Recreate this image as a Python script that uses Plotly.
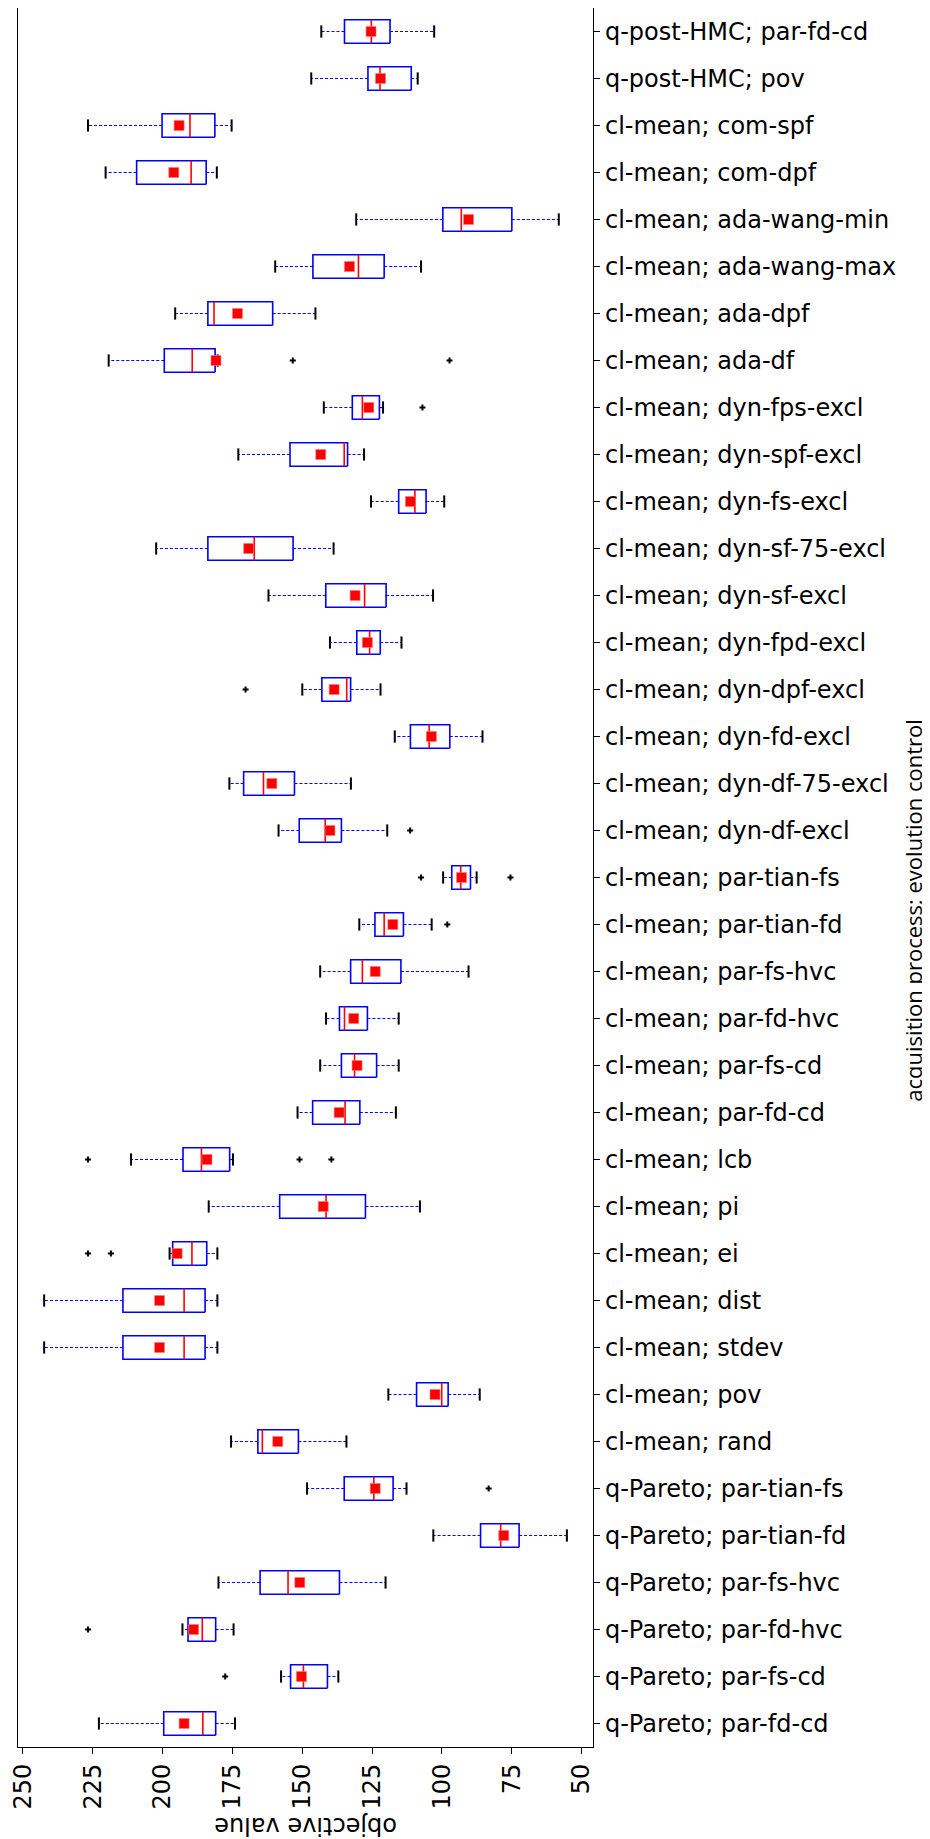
import plotly.graph_objects as go

# categories listed from top to bottom, as they appear on the chart
labels = [
    "q-post-HMC; par-fd-cd", "q-post-HMC; pov",
    "cl-mean; com-spf", "cl-mean; com-dpf",
    "cl-mean; ada-wang-min", "cl-mean; ada-wang-max",
    "cl-mean; ada-dpf", "cl-mean; ada-df",
    "cl-mean; dyn-fps-excl", "cl-mean; dyn-spf-excl",
    "cl-mean; dyn-fs-excl", "cl-mean; dyn-sf-75-excl",
    "cl-mean; dyn-sf-excl", "cl-mean; dyn-fpd-excl",
    "cl-mean; dyn-dpf-excl", "cl-mean; dyn-fd-excl",
    "cl-mean; dyn-df-75-excl", "cl-mean; dyn-df-excl",
    "cl-mean; par-tian-fs", "cl-mean; par-tian-fd",
    "cl-mean; par-fs-hvc", "cl-mean; par-fd-hvc",
    "cl-mean; par-fs-cd", "cl-mean; par-fd-cd",
    "cl-mean; lcb", "cl-mean; pi", "cl-mean; ei", "cl-mean; dist",
    "cl-mean; stdev", "cl-mean; pov", "cl-mean; rand",
    "q-Pareto; par-tian-fs", "q-Pareto; par-tian-fd",
    "q-Pareto; par-fs-hvc", "q-Pareto; par-fd-hvc",
    "q-Pareto; par-fs-cd", "q-Pareto; par-fd-cd",
]

whisker_high = [143.2, 146.8, 226.7, 220.4, 130.7, 159.7, 195.5, 219.3, 142.3, 172.9,
                125.4, 202.3, 162.1, 140.1, 150.0, 116.9, 176.1, 158.5, 99.6, 129.6,
                143.6, 141.5, 143.6, 151.7, 211.3, 183.5, 197.5, 242.4, 242.4, 119.2,
                175.5, 148.3, 103.1, 180.0, 192.9, 157.6, 222.8]
q3 = [134.9, 126.5, 200.2, 209.3, 99.7, 146.2, 183.8, 199.4, 132.1, 154.4,
      115.5, 183.8, 141.6, 130.5, 143.0, 111.3, 171.0, 151.1, 96.5, 124.0,
      132.7, 136.7, 136.0, 146.3, 192.7, 158.1, 196.4, 214.2, 214.2, 109.1,
      165.9, 135.0, 86.2, 165.1, 190.9, 154.2, 199.6]
median = [125.3, 122.2, 190.2, 189.8, 93.1, 129.9, 181.6, 189.4, 128.5, 135.0,
          109.7, 167.2, 127.7, 125.9, 134.1, 104.6, 163.9, 141.8, 93.3, 120.7,
          128.5, 134.9, 131.3, 134.7, 186.1, 141.5, 189.5, 192.3, 192.3, 100.1,
          164.3, 124.4, 79.0, 155.1, 185.8, 149.6, 185.6]
q1 = [118.6, 111.0, 181.3, 184.4, 75.0, 120.7, 160.6, 181.2, 122.4, 133.8,
      105.7, 153.3, 120.0, 122.1, 132.7, 97.2, 152.8, 136.0, 89.8, 113.8,
      114.7, 126.7, 123.4, 129.4, 176.0, 127.4, 184.2, 184.8, 184.8, 97.8,
      151.4, 117.5, 72.4, 136.7, 181.0, 141.0, 181.0]
whisker_low = [102.8, 108.7, 175.3, 180.6, 58.2, 107.5, 145.3, 180.3, 121.1, 127.9,
               99.2, 138.8, 103.2, 114.5, 122.0, 85.5, 132.6, 119.6, 87.6, 103.7,
               90.5, 115.5, 115.5, 116.5, 174.8, 107.9, 180.4, 180.4, 180.4, 86.5,
               134.2, 112.7, 55.3, 120.2, 174.6, 137.1, 174.1]
mean = [125.4, 122.0, 194.1, 196.0, 90.5, 133.1, 173.2, 180.9, 126.2, 143.4,
        111.3, 169.2, 131.1, 126.7, 138.6, 103.8, 160.9, 140.1, 93.0, 117.6,
        123.9, 131.6, 130.4, 136.8, 184.1, 142.5, 194.8, 201.1, 201.1, 102.5,
        158.8, 123.9, 77.9, 150.9, 188.9, 150.3, 192.3]
outliers = [[], [], [], [], [], [], [], [153.4, 97.3], [107.0], [],
            [], [], [], [], [170.3], [], [], [111.4], [107.5, 75.5], [98.1],
            [], [], [], [], [226.7, 151.0, 139.6], [], [226.7, 218.5], [], [], [],
            [], [83.3], [], [], [226.7], [177.6], []]

BOX_HALF = 0.25
CAP_HALF = 0.13
FONT = "DejaVu Sans"

n = len(labels)
pos = [n - 1 - i for i in range(n)]


def segments(pairs):
    """Join (x0, x1, y0, y1) segments into x/y lists separated by None."""
    xs, ys = [], []
    for x0, x1, y0, y1 in pairs:
        xs += [x0, x1, None]
        ys += [y0, y1, None]
    return xs, ys


fig = go.Figure()

# boxes (q1 -> q3)
bx, by = [], []
for p, lo, hi in zip(pos, q1, q3):
    bx += [lo, hi, hi, lo, lo, None]
    by += [p - BOX_HALF, p - BOX_HALF, p + BOX_HALF, p + BOX_HALF, p - BOX_HALF, None]
fig.add_trace(go.Scatter(x=bx, y=by, mode="lines", line=dict(color="blue", width=1.6),
                         hoverinfo="skip"))

# whiskers
wx, wy = segments([(a, b, p, p) for p, a, b in zip(pos, q3, whisker_high)]
                  + [(a, b, p, p) for p, a, b in zip(pos, q1, whisker_low)])
fig.add_trace(go.Scatter(x=wx, y=wy, mode="lines",
                         line=dict(color="blue", width=1.2, dash="3px,2px"), hoverinfo="skip"))

# caps
cx, cy = segments([(v, v, p - CAP_HALF, p + CAP_HALF) for p, v in zip(pos, whisker_high)]
                  + [(v, v, p - CAP_HALF, p + CAP_HALF) for p, v in zip(pos, whisker_low)])
fig.add_trace(go.Scatter(x=cx, y=cy, mode="lines", line=dict(color="black", width=2),
                         hoverinfo="skip"))

# medians
mx, my = segments([(v, v, p - BOX_HALF, p + BOX_HALF) for p, v in zip(pos, median)])
fig.add_trace(go.Scatter(x=mx, y=my, mode="lines", line=dict(color="red", width=1.6),
                         hoverinfo="skip"))

# means
fig.add_trace(go.Scatter(x=mean, y=pos, mode="markers",
                         marker=dict(symbol="square", color="red", size=10,
                                     line=dict(color="rgba(255,120,120,0.6)", width=1))))

# fliers
fx = [v for vals in outliers for v in vals]
fy = [p for p, vals in zip(pos, outliers) for _ in vals]
fig.add_trace(go.Scatter(x=fx, y=fy, mode="markers",
                         marker=dict(symbol="cross", color="black", size=5)))

# the page body adds an 8px margin, so the figure is 8px smaller than the window
fig.update_layout(
    width=922, height=1831,
    margin=dict(l=10, r=337, t=0, b=92),
    plot_bgcolor="white", paper_bgcolor="white",
    showlegend=False,
    font=dict(family=FONT, size=24, color="black"),
    xaxis=dict(range=[251.76, 45.95], tickvals=list(range(50, 251, 25)), tickangle=-90,
               ticks="outside", ticklen=6, tickcolor="black", showline=True, mirror=True,
               linecolor="black", linewidth=1.3, showgrid=False, zeroline=False,
               tickfont=dict(family=FONT, size=24)),
    yaxis=dict(range=[-0.5, n - 0.5], tickvals=pos, ticktext=labels, side="right",
               ticks="outside", ticklen=6, tickcolor="black", showline=True, mirror=True,
               linecolor="black", linewidth=1.3, showgrid=False, zeroline=False,
               tickfont=dict(family=FONT, size=24)),
    annotations=[
        dict(text="objective value", textangle=180, xref="paper", yref="paper",
             x=0.5, y=-0.045, xanchor="center", yanchor="middle", showarrow=False,
             font=dict(family=FONT, size=24)),
        dict(text="acquisition process; evolution control", textangle=-90,
             xref="paper", yref="paper", x=1.555, y=0.481, xanchor="center",
             yanchor="middle", showarrow=False, font=dict(family="Open Sans", size=22)),
    ],
)

fig.write_html("out.html")
